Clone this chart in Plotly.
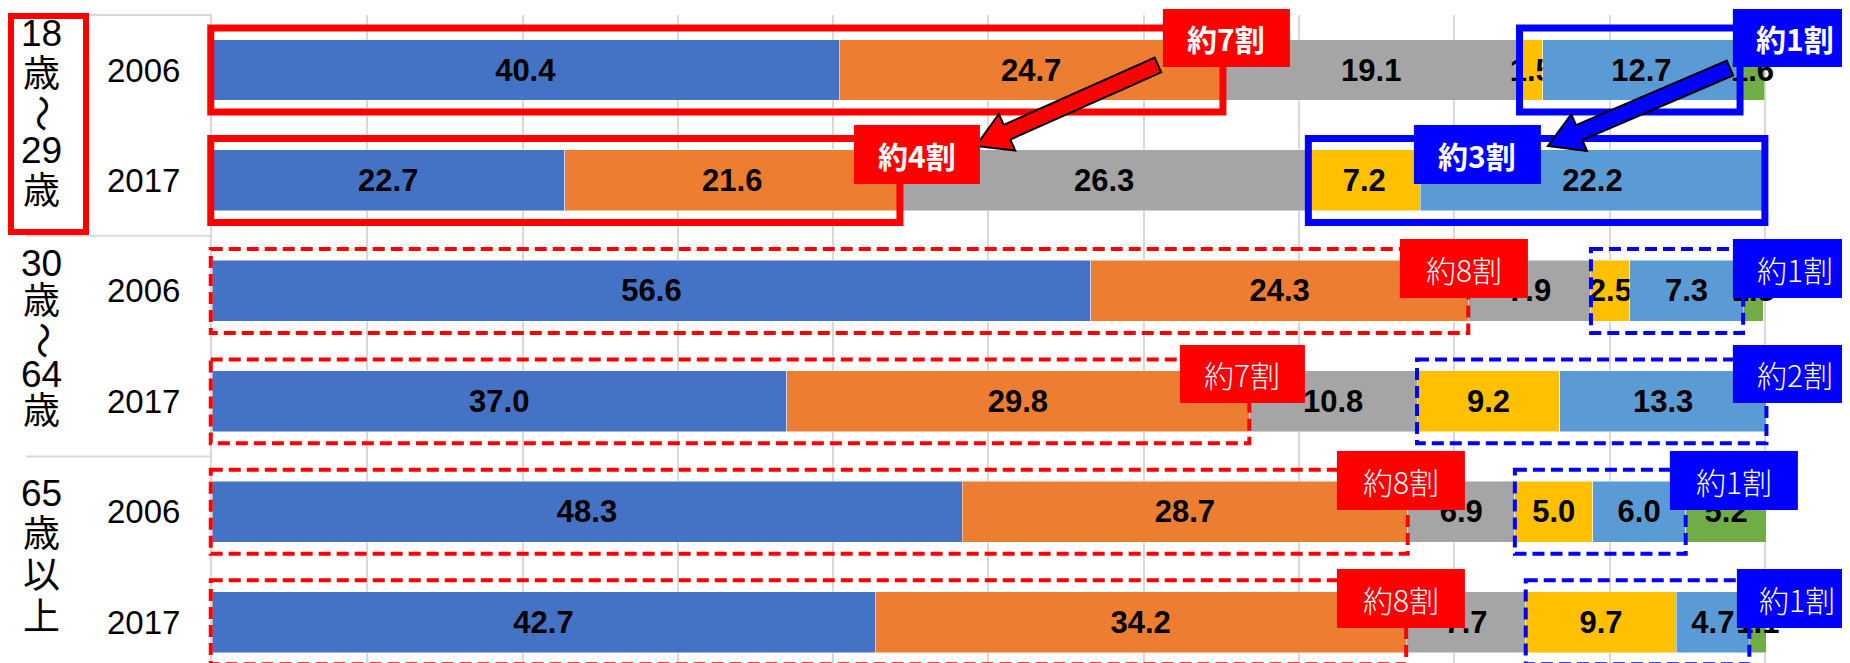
import math
import plotly.graph_objects as go

# ---------------- data ----------------
group_lines = [["18", "歳", "〜", "29", "歳"],
               ["30", "歳", "〜", "64", "歳"],
               ["65", "歳", "以", "上"]]
years = ["2006", "2017", "2006", "2017", "2006", "2017"]
row_ids = ["18〜29歳 2006", "18〜29歳 2017", "30〜64歳 2006",
           "30〜64歳 2017", "65歳以上 2006", "65歳以上 2017"]

s_blue = [40.4, 22.7, 56.6, 37.0, 48.3, 42.7]
s_orange = [24.7, 21.6, 24.3, 29.8, 28.7, 34.2]
s_grey = [19.1, 26.3, 7.9, 10.8, 6.9, 7.7]
s_yellow = [1.5, 7.2, 2.5, 9.2, 5.0, 9.7]
s_lblue = [12.7, 22.2, 7.3, 13.3, 6.0, 4.7]
s_green = [1.6, None, 1.3, None, 5.2, 1.1]

red_labels = ["約7割", "約4割", "約8割", "約7割", "約8割", "約8割"]
blue_labels = ["約1割", "約3割", "約1割", "約2割", "約1割", "約1割"]

# ---------------- layout constants ----------------
W, H = 1850, 663
XMAX = 100.2
PX_PER_UNIT = 15.53
L, T, B = 204, 7, 0
PW = PX_PER_UNIT * XMAX
R = W - L - PW
PH = H - T - B
R_TOP, R_BOT = -0.498, 5.441

def X(px):
    return (px - L) / PW

def XV(v):
    return v / XMAX

def Y(py):
    return 1 - (py - T) / PH

def Yi(idx):
    return (R_BOT - idx) / (R_BOT - R_TOP)

colors = ["#4472C4", "#ED7D31", "#A5A5A5", "#FFC000", "#5B9BD5", "#70AD47"]
series = [s_blue, s_orange, s_grey, s_yellow, s_lblue, s_green]
names = ["系列1", "系列2", "系列3", "系列4", "系列5", "系列6"]

fig = go.Figure()
for s, c, n in zip(series, colors, names):
    fig.add_trace(go.Bar(
        y=row_ids, x=s, orientation="h", name=n,
        marker=dict(color=c, line=dict(width=0.8, color="rgba(255,255,255,0.6)")),
        text=[("" if v is None else f"{v:.1f}") for v in s],
        textposition="inside", insidetextanchor="middle", textangle=0,
        constraintext="none", cliponaxis=False,
        textfont=dict(family="Liberation Sans Narrow, Liberation Sans, Arial", size=31,
                      color="black", weight="bold"),
        hoverinfo="skip",
    ))

shapes = []
annotations = []

# label-area lines
grid_c = "#D9D9D9"
shapes.append(dict(type="line", xref="paper", yref="paper", x0=X(80), x1=X(L), y0=Y(T), y1=Y(T),
                   line=dict(color=grid_c, width=2)))
for sep in (1.5, 3.5):
    shapes.append(dict(type="line", xref="paper", yref="paper", x0=X(18), x1=X(L), y0=Yi(sep), y1=Yi(sep),
                       line=dict(color=grid_c, width=2)))

# red frame around first group label
shapes.append(dict(type="rect", xref="paper", yref="paper", x0=X(3), x1=X(78), y0=Y(8), y1=Y(224),
                   line=dict(color="#FF0000", width=6), fillcolor="rgba(0,0,0,0)"))

# year labels
for rid, yr in zip(row_ids, years):
    annotations.append(dict(xref="paper", yref="y", x=X(135), y=rid, text=yr, showarrow=False,
                            xanchor="center", yanchor="middle",
                            font=dict(family="Liberation Sans, Arial", size=33, color="black")))

# group labels (vertical stacked)
group_char_y = [[26, 66, 105, 143, 184], [255, 293, 332, 366, 403], [485, 526, 567, 609]]
for lines, ys in zip(group_lines, group_char_y):
    for ch, py in zip(lines, ys):
        annotations.append(dict(xref="paper", yref="paper", x=X(33), y=Y(py), text=ch, showarrow=False,
                                xanchor="center", yanchor="middle", textangle=90 if ch == "〜" else 0,
                                font=dict(family="Liberation Sans, Noto Sans CJK JP", size=37, color="black")))

# outline boxes around segments
HALF = 0.38
for i in range(len(row_ids)):
    solid = i < 2
    lw = 7 if solid else 4
    dash = "solid" if solid else "12px,6px"
    red_end = s_blue[i] + s_orange[i]
    b_start = red_end + s_grey[i]
    b_end = b_start + s_yellow[i] + s_lblue[i]
    shapes.append(dict(type="rect", xref="paper", yref="paper", layer="above",
                       x0=-0.0008, x1=XV(red_end), y0=Yi(i - HALF), y1=Yi(i + HALF),
                       line=dict(color="#FF0000", width=lw, dash=dash), fillcolor="rgba(0,0,0,0)"))
    shapes.append(dict(type="rect", xref="paper", yref="paper", layer="above",
                       x0=XV(b_start), x1=XV(b_end), y0=Yi(i - HALF), y1=Yi(i + HALF),
                       line=dict(color="#0000FF", width=lw, dash=dash), fillcolor="rgba(0,0,0,0)"))

# block arrows
def arrow_path(tail, tip, w=8, h=20, hl=34):
    dx, dy = tip[0] - tail[0], tip[1] - tail[1]
    d = math.hypot(dx, dy)
    ux, uy = dx / d, dy / d
    nx, ny = -uy, ux
    bx, by = tip[0] - ux * hl, tip[1] - uy * hl
    pts = [(tail[0] + nx * w, tail[1] + ny * w), (bx + nx * w, by + ny * w), (bx + nx * h, by + ny * h),
           tip, (bx - nx * h, by - ny * h), (bx - nx * w, by - ny * w), (tail[0] - nx * w, tail[1] - ny * w)]
    return "M " + " L ".join(f"{X(px):.5f},{Y(py):.5f}" for px, py in pts) + " Z"

shapes.append(dict(type="path", xref="paper", yref="paper", layer="above",
                   path=arrow_path((1150, 57), (968, 138)),
                   fillcolor="#FF0000", line=dict(color="black", width=2)))
shapes.append(dict(type="path", xref="paper", yref="paper", layer="above",
                   path=arrow_path((1722, 60), (1540, 138)),
                   fillcolor="#0000FF", line=dict(color="black", width=2)))

# label boxes
red_box_px = [(1155, 1, 1282, 59), (846, 117, 972, 176), (1392, 231, 1520, 290),
              (1172, 337, 1297, 395), (1329, 443, 1457, 502), (1329, 561, 1457, 620)]
blue_box_px = [(1725, 1, 1852, 59), (1406, 117, 1533, 176), (1725, 231, 1852, 290),
               (1725, 337, 1852, 395), (1662, 443, 1790, 502), (1729, 561, 1852, 620)]
for i in range(len(row_ids)):
    bold = i < 2
    for (x0, y0, x1, y1), txt, col in ((red_box_px[i], red_labels[i], "#FF0000"),
                                       (blue_box_px[i], blue_labels[i], "#0000FF")):
        shapes.append(dict(type="rect", xref="paper", yref="paper", layer="above",
                           x0=X(x0), x1=X(x1), y0=Y(y0), y1=Y(y1),
                           line=dict(width=0), fillcolor=col))
        annotations.append(dict(xref="paper", yref="paper", x=X((x0 + min(x1, 1850)) / 2), y=Y((y0 + y1) / 2),
                                text=txt, showarrow=False, xanchor="center", yanchor="middle",
                                font=dict(family="Noto Sans CJK JP", size=30, color="white",
                                          weight="bold" if bold else 300)))

fig.update_layout(
    width=W, height=H,
    margin=dict(l=L, r=R, t=T, b=B, pad=0),
    barmode="stack", bargap=0.448,
    paper_bgcolor="white", plot_bgcolor="white",
    showlegend=False,
    xaxis=dict(range=[0, XMAX], dtick=10, tick0=0, showgrid=True, gridcolor=grid_c, gridwidth=1.7,
               showticklabels=False, zeroline=False, showline=False, fixedrange=True),
    yaxis=dict(type="category", categoryorder="array", categoryarray=row_ids,
               range=[R_BOT, R_TOP], showticklabels=False, showgrid=False, zeroline=False,
               showline=True, linecolor=grid_c, linewidth=2, ticks="", fixedrange=True),
    shapes=shapes, annotations=annotations,
)

fig.write_html("out.html")
